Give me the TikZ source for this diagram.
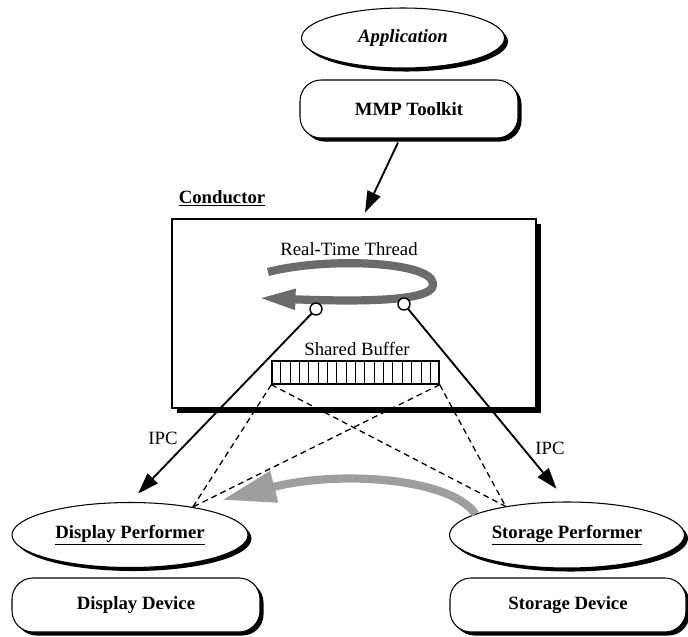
\documentclass[tikz,border=0pt]{standalone}
\usepackage{fontspec}
\setmainfont{Liberation Serif}
\usetikzlibrary{arrows.meta, positioning, calc, shapes.geometric, shadows}

\definecolor{thread}{gray}{0.42}
\definecolor{handoff}{gray}{0.62}

\newcommand{\figfont}{\fontsize{16}{19}\selectfont}

\tikzset{
  blkshadow/.style={drop shadow={shadow xshift=3pt, shadow yshift=-3pt, fill=black, opacity=1}},
  agent/.style={ellipse, draw, line width=0.9pt, fill=white, blkshadow, font=\figfont\bfseries},
  device/.style={rectangle, rounded corners=18pt, draw, line width=0.9pt, fill=white, blkshadow, font=\figfont\bfseries},
  ipc/.style={line width=1.6pt, -{Triangle[length=18pt, width=12pt]}},
  dashlink/.style={line width=1.1pt, dash pattern=on 5pt off 3.5pt},
  port/.style={circle, draw, line width=1.2pt, fill=white, inner sep=0pt, minimum size=0.36cm},
  fat/.style={line width=7pt, line cap=butt}
}

\begin{document}
\begin{tikzpicture}[x=0.03cm, y=-0.03cm]
\useasboundingbox (0,0) rectangle (688,637);

% Application and toolkit
\node[agent, minimum width=6.09cm, minimum height=1.8cm, font=\figfont\bfseries\itshape] (app) at (403,38) {Application};
\node[device, minimum width=6.54cm, minimum height=1.74cm] (toolkit) at (409,109) {MMP Toolkit};

% Conductor box
\node[rectangle, draw, line width=1pt, fill=white, drop shadow={shadow xshift=4.5pt, shadow yshift=-4.5pt, fill=black, opacity=1},
      minimum width=10.92cm, minimum height=5.67cm] (conductor) at (354,313.5) {};
\node[font=\figfont\bfseries] (condlabel) at (222,198) {\underline{Conductor}};
\draw[ipc] ([xshift=-0.33cm, yshift=-0.12cm]toolkit.south) -- ([xshift=0.33cm, yshift=0.18cm]conductor.north);

% Real-time thread loop
\node[font=\figfont] (rtlabel) at (349,249) {Real-Time Thread};
\draw[fat, thread, -{Triangle[length=32pt, width=16pt]}]
  (268,272) .. controls (330,256) and (445,262) .. (432,288)
            .. controls (422,303) and (340,301) .. (258,298);
\node[port] (cl) at (316,309) {};
\node[port] (cr) at (404,304) {};

% Shared buffer
\node[font=\figfont] (sblabel) at (357,349) {Shared Buffer};
\node[draw, line width=1.2pt, minimum width=5.01cm, minimum height=0.69cm, inner sep=0pt] (buf) at (355.5,372.5) {};
\foreach \i in {1,...,17}
  \draw[line width=0.8pt] ($(buf.south west)!\i/18!(buf.south east)$) -- ($(buf.north west)!\i/18!(buf.north east)$);

% Performers and devices
\node[agent, minimum width=7.08cm, minimum height=1.95cm] (disp) at (130,535) {\underline{Display Performer}};
\node[agent, minimum width=7.05cm, minimum height=1.98cm] (stor) at (567,535) {\underline{Storage Performer}};
\node[device, minimum width=7.44cm, minimum height=1.62cm] (dispdev) at (136,605) {Display Device};
\node[device, minimum width=7.08cm, minimum height=1.62cm] (stordev) at (568,605) {Storage Device};

% Buffer access
\draw[dashlink] (buf.south west) -- (disp.24);
\draw[dashlink] (buf.south west) -- (stor.155);
\draw[dashlink] (buf.south east) -- (disp.24);
\draw[dashlink] (buf.south east) -- (stor.155);

% Data handed from storage to display
\coordinate (handtip) at (222,500);
\draw[fat, handoff, -{Triangle[length=46pt, width=26pt]}]
  (stor.167) .. controls (450,478) and (340,470) .. (handtip);

% IPC links
\draw[ipc, shorten >=10pt] (cl) -- (disp.north);
\draw[ipc, shorten >=14pt] (cr) -- (stor.north);
\node[font=\figfont] (ipcl) at (163,438) {IPC};
\node[font=\figfont] (ipcr) at (550,448) {IPC};

\end{tikzpicture}
\end{document}
